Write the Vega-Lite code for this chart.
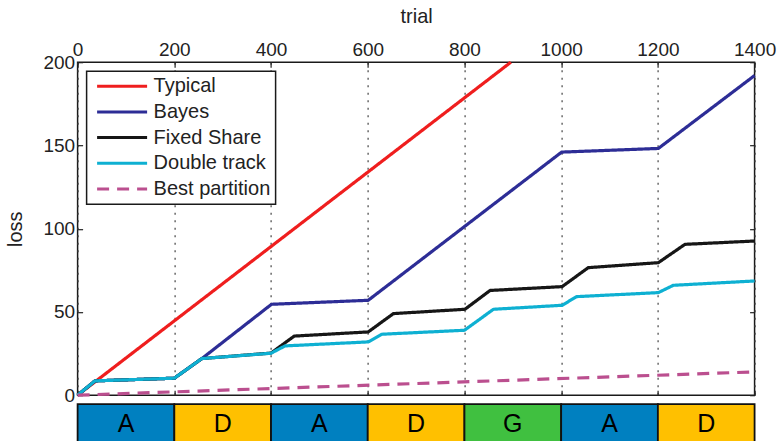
{
  "$schema": "https://vega.github.io/schema/vega-lite/v6.json",
  "autosize": {"type": "pad"},
  "padding": {"left": 4.6, "top": 5.2, "right": 28, "bottom": 0},
  "bounds": "flush",
  "spacing": 9,
  "config": {
    "font": "Liberation Sans",
    "view": {"stroke": "#1a1a1a", "strokeWidth": 1.5},
    "axis": {
      "labelFont": "Liberation Sans",
      "labelFontSize": 19,
      "labelColor": "#222222",
      "titleFont": "Liberation Sans",
      "titleFontSize": 20,
      "titleFontWeight": "normal",
      "titleColor": "#222222",
      "domain": false,
      "tickColor": "#222222",
      "tickWidth": 1.2,
      "format": "d",
      "labelFlush": false,
      "labelOverlap": false
    },
    "legend": {
      "orient": "none",
      "legendX": 9,
      "legendY": 9,
      "strokeColor": "#1a1a1a",
      "strokeWidth": 1.5,
      "fillColor": "white",
      "padding": 5,
      "cornerRadius": 0,
      "labelFont": "Liberation Sans",
      "labelFontSize": 20,
      "labelColor": "#222222",
      "labelOffset": 5,
      "symbolOffset": 4,
      "symbolType": "stroke",
      "symbolSize": 2500,
      "symbolStrokeWidth": 3,
      "clipHeight": 20,
      "rowPadding": 5.7,
      "title": null
    }
  },
  "vconcat": [
    {
      "width": 677,
      "height": 333,
      "data": {
        "values": [
          {"series": "Typical", "trial": 0, "loss": 0},
          {"series": "Typical", "trial": 896, "loss": 200},
          {"series": "Bayes", "trial": 0, "loss": 0},
          {"series": "Bayes", "trial": 36, "loss": 8.6},
          {"series": "Bayes", "trial": 200, "loss": 10.2},
          {"series": "Bayes", "trial": 257, "loss": 22},
          {"series": "Bayes", "trial": 401, "loss": 54.6},
          {"series": "Bayes", "trial": 601, "loss": 57},
          {"series": "Bayes", "trial": 1001, "loss": 146},
          {"series": "Bayes", "trial": 1201, "loss": 148.2},
          {"series": "Bayes", "trial": 1400, "loss": 192},
          {"series": "Fixed Share", "trial": 0, "loss": 0},
          {"series": "Fixed Share", "trial": 36, "loss": 8.6},
          {"series": "Fixed Share", "trial": 200, "loss": 10.2},
          {"series": "Fixed Share", "trial": 257, "loss": 22},
          {"series": "Fixed Share", "trial": 400, "loss": 25.3},
          {"series": "Fixed Share", "trial": 448, "loss": 35.5},
          {"series": "Fixed Share", "trial": 601, "loss": 38},
          {"series": "Fixed Share", "trial": 653, "loss": 49},
          {"series": "Fixed Share", "trial": 801, "loss": 51.6},
          {"series": "Fixed Share", "trial": 853, "loss": 62.9},
          {"series": "Fixed Share", "trial": 1002, "loss": 65.2},
          {"series": "Fixed Share", "trial": 1056, "loss": 76.6},
          {"series": "Fixed Share", "trial": 1201, "loss": 79.6},
          {"series": "Fixed Share", "trial": 1256, "loss": 90.6},
          {"series": "Fixed Share", "trial": 1400, "loss": 92.6},
          {"series": "Double track", "trial": 0, "loss": 0},
          {"series": "Double track", "trial": 36, "loss": 8.6},
          {"series": "Double track", "trial": 200, "loss": 10.2},
          {"series": "Double track", "trial": 257, "loss": 22},
          {"series": "Double track", "trial": 400, "loss": 25.2},
          {"series": "Double track", "trial": 429, "loss": 29.6},
          {"series": "Double track", "trial": 601, "loss": 32},
          {"series": "Double track", "trial": 629, "loss": 36.6},
          {"series": "Double track", "trial": 800, "loss": 39},
          {"series": "Double track", "trial": 860, "loss": 51.6},
          {"series": "Double track", "trial": 1002, "loss": 54},
          {"series": "Double track", "trial": 1032, "loss": 59.2},
          {"series": "Double track", "trial": 1201, "loss": 61.6},
          {"series": "Double track", "trial": 1232, "loss": 66},
          {"series": "Double track", "trial": 1400, "loss": 68.6},
          {"series": "Best partition", "trial": 0, "loss": 0},
          {"series": "Best partition", "trial": 1400, "loss": 14}
        ]
      },
      "layer": [
        {
          "mark": {"type": "line", "strokeWidth": 3.2, "strokeJoin": "round", "strokeCap": "butt"},
          "encoding": {
            "x": {
              "field": "trial", "type": "quantitative",
              "scale": {"domain": [0, 1400], "nice": false},
              "axis": {"orient": "top", "title": "trial", "values": [0, 200, 400, 600, 800, 1000, 1200, 1400], "tickSize": -5, "labelPadding": 7.5, "titlePadding": 14, "grid": false}
            },
            "y": {
              "field": "loss", "type": "quantitative",
              "scale": {"domain": [0, 200], "nice": false},
              "axis": {"orient": "left", "title": "loss", "values": [0, 50, 100, 150, 200], "tickSize": -5, "labelPadding": 8, "titlePadding": 17, "grid": false}
            },
            "color": {
              "field": "series", "type": "nominal",
              "scale": {
                "domain": ["Typical", "Bayes", "Fixed Share", "Double track", "Best partition"],
                "range": ["#ef1e1e", "#2d2d96", "#161616", "#0eb0d2", "#bb4f8f"]
              }
            },
            "strokeDash": {
              "field": "series", "type": "nominal",
              "scale": {
                "domain": ["Typical", "Bayes", "Fixed Share", "Double track", "Best partition"],
                "range": [[1, 0], [1, 0], [1, 0], [1, 0], [12, 8]]
              }
            },
            "order": {"field": "trial", "type": "quantitative"}
          }
        },
        {
          "mark": {"type": "point", "opacity": 0},
          "encoding": {
            "x": {
              "field": "trial", "type": "quantitative",
              "axis": {"orient": "bottom", "title": null, "labels": false, "values": [0, 200, 400, 600, 800, 1000, 1200, 1400], "tickSize": -5, "grid": true, "gridDash": [2, 5.5], "gridColor": "#444444", "gridWidth": 1.2}
            },
            "y": {
              "field": "loss", "type": "quantitative",
              "axis": {"orient": "right", "title": null, "labels": false, "values": [0, 50, 100, 150, 200], "tickSize": -5, "grid": false}
            }
          }
        }
      ],
      "resolve": {"axis": {"x": "independent", "y": "independent"}}
    },
    {
      "width": 677,
      "height": 50,
      "view": {"stroke": null},
      "data": {
        "values": [
          {"start": 0, "end": 200, "mid": 100, "task": "A"},
          {"start": 200, "end": 400, "mid": 300, "task": "D"},
          {"start": 400, "end": 600, "mid": 500, "task": "A"},
          {"start": 600, "end": 800, "mid": 700, "task": "D"},
          {"start": 800, "end": 1000, "mid": 900, "task": "G"},
          {"start": 1000, "end": 1200, "mid": 1100, "task": "A"},
          {"start": 1200, "end": 1400, "mid": 1300, "task": "D"}
        ]
      },
      "layer": [
        {
          "mark": {"type": "rect", "stroke": "#111111", "strokeWidth": 1.8},
          "encoding": {
            "x": {"field": "start", "type": "quantitative", "scale": {"domain": [0, 1400], "nice": false}, "axis": null},
            "x2": {"field": "end"},
            "fill": {"field": "task", "type": "nominal", "scale": {"domain": ["A", "D", "G"], "range": ["#0080c0", "#ffc000", "#40c040"]}, "legend": null}
          }
        },
        {
          "mark": {"type": "text", "fontSize": 25, "font": "Liberation Sans", "color": "#000000", "baseline": "middle", "dy": -5},
          "encoding": {
            "x": {"field": "mid", "type": "quantitative", "scale": {"domain": [0, 1400], "nice": false}, "axis": null},
            "text": {"field": "task", "type": "nominal"}
          }
        }
      ]
    }
  ]
}
